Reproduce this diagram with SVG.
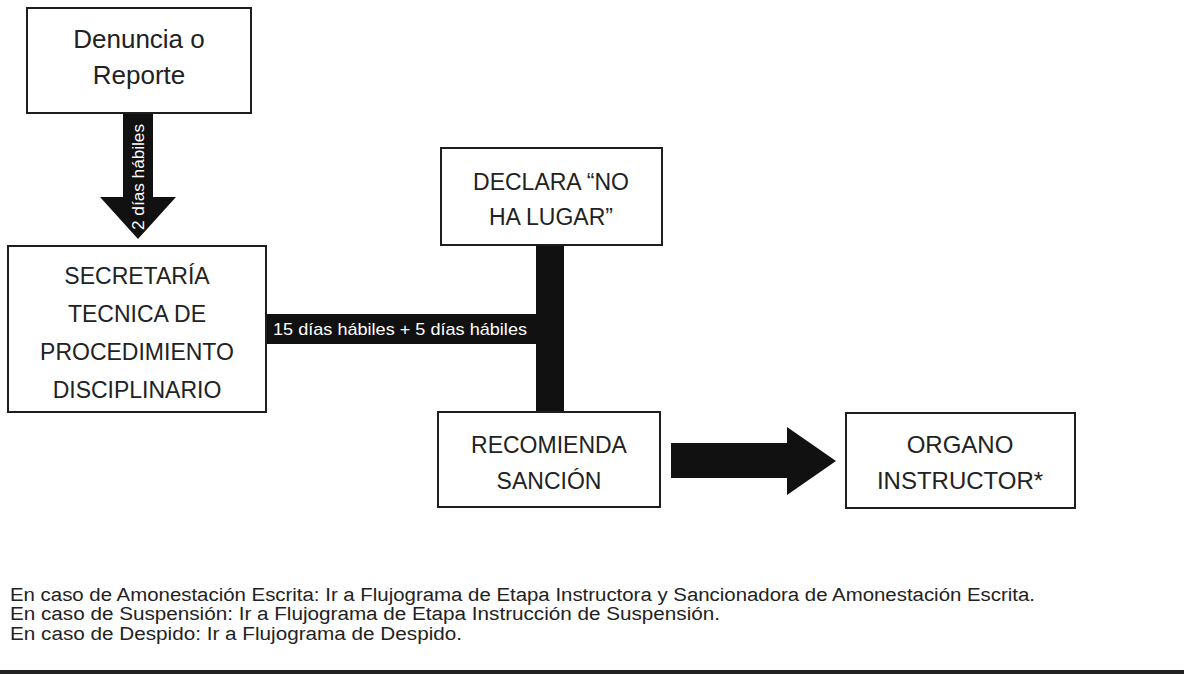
<svg xmlns="http://www.w3.org/2000/svg" width="1184" height="674" viewBox="0 0 1184 674">
<style>
.box{fill:#fff;stroke:#1e1e1e;stroke-width:2}
.t{font-family:"Liberation Sans",Arial,sans-serif;font-size:23px;fill:#222;text-anchor:middle}
.t26{font-size:26px}
.t24{font-size:24px}
.w{font-family:"Liberation Sans",Arial,sans-serif;fill:#fff}
.bar{fill:#111}
.note{font-family:"Liberation Sans",Arial,sans-serif;font-size:18px;fill:#222}
</style>
<rect x="0" y="0" width="1184" height="674" fill="#fff"/>
<g id="connectors">
<path class="bar" d="M123,113 H153 V197 H176 L138,239 L100,197 H123 Z"/>
<text class="w" style="font-size:16px" text-anchor="middle" transform="translate(144,177) rotate(-90)" textLength="106" lengthAdjust="spacingAndGlyphs">2 días hábiles</text>
<rect class="bar" x="266" y="314" width="272" height="30"/>
<rect class="bar" x="536" y="245" width="28" height="168"/>
<text class="w" style="font-size:17px" x="273" y="335" textLength="254" lengthAdjust="spacingAndGlyphs">15 días hábiles + 5 días hábiles</text>
<path class="bar" d="M671,443 H787 V427 L836,461 L787,495 V478 H671 Z"/>
</g>
<g id="denuncia">
<rect class="box" x="27" y="8" width="224" height="105"/>
<text class="t t26" x="139" y="48">Denuncia o</text>
<text class="t t26" x="139" y="84">Reporte</text>
</g>
<g id="secretaria">
<rect class="box" x="8" y="246" width="258" height="166"/>
<text class="t" x="137" y="284">SECRETARÍA</text>
<text class="t" x="137" y="322">TECNICA DE</text>
<text class="t" x="137" y="360">PROCEDIMIENTO</text>
<text class="t" x="137" y="398">DISCIPLINARIO</text>
</g>
<g id="declara">
<rect class="box" x="441" y="148" width="221" height="97"/>
<text class="t" x="551" y="190">DECLARA “NO</text>
<text class="t" x="551" y="225">HA LUGAR”</text>
</g>
<g id="recomienda">
<rect class="box" x="438" y="412" width="222" height="95"/>
<text class="t" x="549" y="453">RECOMIENDA</text>
<text class="t" x="549" y="489">SANCIÓN</text>
</g>
<g id="organo">
<rect class="box" x="846" y="413" width="229" height="95"/>
<text class="t t24" x="960" y="453">ORGANO</text>
<text class="t t24" x="960" y="489">INSTRUCTOR*</text>
</g>
<g id="notes">
<text class="note" x="10" y="601" textLength="1025" lengthAdjust="spacingAndGlyphs">En caso de Amonestación Escrita: Ir a Flujograma de Etapa Instructora y Sancionadora de Amonestación Escrita.</text>
<text class="note" x="10" y="620" textLength="710" lengthAdjust="spacingAndGlyphs">En caso de Suspensión: Ir a Flujograma de Etapa Instrucción de Suspensión.</text>
<text class="note" x="10" y="640" textLength="452" lengthAdjust="spacingAndGlyphs">En caso de Despido: Ir a Flujograma de Despido.</text>
</g>
<rect x="0" y="670" width="1184" height="4" fill="#222"/>
</svg>
